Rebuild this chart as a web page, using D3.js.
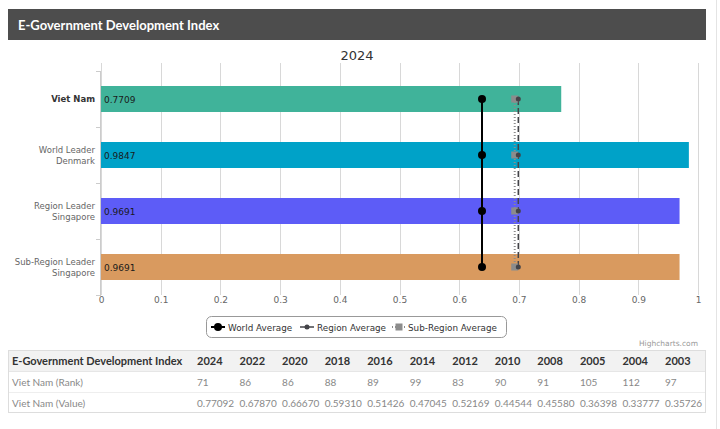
<!DOCTYPE html>
<html><head><meta charset="utf-8">
<script src="https://cdn.jsdelivr.net/npm/d3@7/dist/d3.min.js"></script>
<style>
body{margin:0;background:#fff;}
svg{display:block;}
</style></head>
<body>
<svg id="c" width="720" height="429"></svg>
<script>
const categories = ["Viet Nam", "World Leader|Denmark", "Region Leader|Singapore", "Sub-Region Leader|Singapore"];
const indexValues = [0.7709, 0.9847, 0.9691, 0.9691];
const barColors = ["#40b39a", "#00a2c8", "#5d5cf7", "#d99a5f"];
const worldAverage = [0.6382, 0.6382, 0.6382, 0.6382];
const regionAverage = [0.6990, 0.6990, 0.6990, 0.6990];
const subRegionAverage = [0.6930, 0.6930, 0.6930, 0.6930];
const xTicks = [0, 0.1, 0.2, 0.3, 0.4, 0.5, 0.6, 0.7, 0.8, 0.9, 1];
const years = ["2024","2022","2020","2018","2016","2014","2012","2010","2008","2005","2004","2003"];
const ranks = ["71","86","86","88","89","99","83","90","91","105","112","97"];
const tableValues = ["0.77092","0.67870","0.66670","0.59310","0.51426","0.47045","0.52169","0.44544","0.45580","0.36398","0.33777","0.35726"];

const svg = d3.select("#c");
const chartFont = "'DejaVu Sans', Verdana, sans-serif";
const tblFont = "Lato, 'Open Sans', sans-serif";

// page border
svg.append("line").attr("x1",716.5).attr("x2",716.5).attr("y1",0).attr("y2",429).attr("stroke","#e4e4e4");

// header
svg.append("rect").attr("x",8).attr("y",9).attr("width",698).attr("height",31).attr("fill","#4d4d4d");
svg.append("text").attr("x",18).attr("y",30).attr("fill","#fff").attr("font-family",tblFont)
  .attr("font-weight","bold").attr("font-size",13).text("E-Government Development Index");

// chart title
svg.append("text").attr("x",357).attr("y",60).attr("text-anchor","middle").attr("fill","#333")
  .attr("font-family",chartFont).attr("font-size",13).text("2024");

const x = d3.scaleLinear().domain([0,1]).range([101,698]);
const y = d3.scaleBand().domain(categories).range([71,295]);
const gridTop = 63, plotBottom = 295;

// gridlines
svg.append("g").selectAll("line").data(xTicks).join("line")
  .attr("x1",d=>Math.round(x(d))+0.5).attr("x2",d=>Math.round(x(d))+0.5)
  .attr("y1",gridTop).attr("y2",plotBottom).attr("stroke","#d8d8d8").attr("stroke-width",1);

// x axis labels
const xAxis = d3.axisBottom(x).tickValues(xTicks).tickSize(0).tickPadding(0).tickFormat(d3.format("~g"));
const gx = svg.append("g").attr("transform",`translate(0,${plotBottom+2})`).call(xAxis);
gx.select(".domain").remove();
gx.selectAll("text").attr("font-family",chartFont).attr("font-size",9).attr("fill","#666");

// category axis line & ticks
svg.append("line").attr("x1",100.5).attr("x2",100.5).attr("y1",71).attr("y2",plotBottom).attr("stroke","#ccc");
svg.append("g").selectAll("line").data(categories.concat(["end"])).join("line")
  .attr("x1",96).attr("x2",101)
  .attr("y1",(d,i)=> (i<categories.length ? y(d) : y.range()[1]) + 0.5)
  .attr("y2",(d,i)=> (i<categories.length ? y(d) : y.range()[1]) + 0.5)
  .attr("stroke","#ccc");

// bars
const barH = 26;
const cy = d => y(d) + y.bandwidth()/2;
svg.append("g").selectAll("rect").data(categories).join("rect")
  .attr("x",x(0)).attr("y",d=>cy(d)-barH/2).attr("width",(d,i)=>x(indexValues[i])-x(0))
  .attr("height",barH).attr("fill",(d,i)=>barColors[i]);

// bar labels
svg.append("g").selectAll("text").data(categories).join("text")
  .attr("x",x(0)+3).attr("y",d=>cy(d)+3.5).attr("font-family",chartFont).attr("font-size",9)
  .attr("fill","#1a1a1a").text((d,i)=>indexValues[i].toFixed(4));

// category labels
const cl = svg.append("g").selectAll("text").data(categories).join("text")
  .attr("text-anchor","end").attr("font-family",chartFont).attr("font-size",8.5)
  .attr("fill",(d,i)=> i===0 ? "#333" : "#666").attr("font-weight",(d,i)=> i===0 ? "bold":"normal");
cl.each(function(d){
  const lines = d.split("|");
  const t = d3.select(this);
  const y0 = cy(d) - (lines.length-1)*11/2 + 3;
  lines.forEach((l,j)=> t.append("tspan").attr("x",95).attr("y",y0 + j*11.5).text(l));
});

// average lines
const line = d3.line().x(d=>x(d.v)).y(d=>cy(d.c));
const mk = arr => categories.map((c,i)=>({c, v:arr[i]}));
svg.append("path").datum(mk(subRegionAverage)).attr("d",line).attr("fill","none")
  .attr("stroke","#8c8c8c").attr("stroke-width",2).attr("stroke-dasharray","1,2");
svg.append("path").datum(mk(regionAverage)).attr("d",line).attr("fill","none")
  .attr("stroke","#434348").attr("stroke-width",1.5).attr("stroke-dasharray","6,3");
svg.append("path").datum(mk(worldAverage)).attr("d",line).attr("fill","none")
  .attr("stroke","#000").attr("stroke-width",2);

svg.append("g").selectAll("rect").data(mk(subRegionAverage)).join("rect")
  .attr("x",d=>x(d.v)-3.5).attr("y",d=>cy(d.c)-3.5).attr("width",7).attr("height",7).attr("fill","#8c8c8c");
svg.append("g").selectAll("circle").data(mk(regionAverage)).join("circle")
  .attr("cx",d=>x(d.v)).attr("cy",d=>cy(d.c)).attr("r",2.5).attr("fill","#434348");
svg.append("g").selectAll("circle").data(mk(worldAverage)).join("circle")
  .attr("cx",d=>x(d.v)).attr("cy",d=>cy(d.c)).attr("r",4).attr("fill","#000");

// legend
const lg = svg.append("g");
lg.append("rect").attr("x",206.5).attr("y",316.5).attr("width",300).attr("height",21).attr("rx",5)
  .attr("fill","#fff").attr("stroke","#999");
const legendItems = [
  {name:"World Average", x0:211, tx:228, color:"#000", sw:2, dash:null, marker:"c4"},
  {name:"Region Average", x0:300, tx:317, color:"#434348", sw:1.5, dash:null, marker:"c2"},
  {name:"Sub-Region Average", x0:392, tx:408, color:"#8c8c8c", sw:2, dash:"1,2", marker:"sq"}
];
legendItems.forEach(it=>{
  const ly = 327;
  lg.append("line").attr("x1",it.x0).attr("x2",it.x0+14).attr("y1",ly).attr("y2",ly)
    .attr("stroke",it.color).attr("stroke-width",it.sw).attr("stroke-dasharray",it.dash);
  const mx = it.x0+7;
  if(it.marker==="c4") lg.append("circle").attr("cx",mx).attr("cy",ly).attr("r",4).attr("fill",it.color);
  else if(it.marker==="c2") lg.append("circle").attr("cx",mx).attr("cy",ly).attr("r",2.5).attr("fill",it.color);
  else lg.append("rect").attr("x",mx-3.5).attr("y",ly-3.5).attr("width",7).attr("height",7).attr("fill",it.color);
  lg.append("text").attr("x",it.tx).attr("y",ly+3.5).attr("font-family",chartFont).attr("font-size",8.8)
    .attr("fill","#333").text(it.name);
});

// credits
svg.append("text").attr("x",698).attr("y",346).attr("text-anchor","end").attr("font-family",chartFont)
  .attr("font-size",7.5).attr("fill","#999").text("Highcharts.com");

// table
const tb = svg.append("g");
tb.append("rect").attr("x",8.5).attr("y",350.5).attr("width",697).attr("height",62).attr("fill","#fff").attr("stroke","#ddd");
tb.append("rect").attr("x",9).attr("y",351).attr("width",696).attr("height",20).attr("fill","#f2f2f2");
tb.append("line").attr("x1",9).attr("x2",705).attr("y1",371.5).attr("y2",371.5).attr("stroke","#e6e6e6");
tb.append("line").attr("x1",9).attr("x2",705).attr("y1",392.5).attr("y2",392.5).attr("stroke","#eee");
tb.append("text").attr("x",12).attr("y",365).attr("font-family",tblFont).attr("font-weight","bold")
  .attr("font-size",11).attr("fill","#333").text("E-Government Development Index");
const colX = d3.scalePoint().domain(years).range([197,665]);
tb.append("g").selectAll("text").data(years).join("text").attr("x",d=>colX(d)).attr("y",365)
  .attr("font-family",tblFont).attr("font-weight","bold").attr("font-size",11).attr("fill","#333").text(d=>d);
tb.append("text").attr("x",12).attr("y",386).attr("font-family",tblFont).attr("font-size",10).attr("fill","#888").text("Viet Nam (Rank)");
tb.append("text").attr("x",12).attr("y",407).attr("font-family",tblFont).attr("font-size",10).attr("fill","#888").text("Viet Nam (Value)");
tb.append("g").selectAll("text").data(ranks).join("text").attr("x",(d,i)=>colX(years[i])).attr("y",386)
  .attr("font-family",tblFont).attr("font-size",10).attr("fill","#888").text(d=>d);
tb.append("g").selectAll("text").data(tableValues).join("text").attr("x",(d,i)=>colX(years[i])).attr("y",407)
  .attr("font-family",tblFont).attr("font-size",10).attr("fill","#888").text(d=>d);
</script>
</body></html>
